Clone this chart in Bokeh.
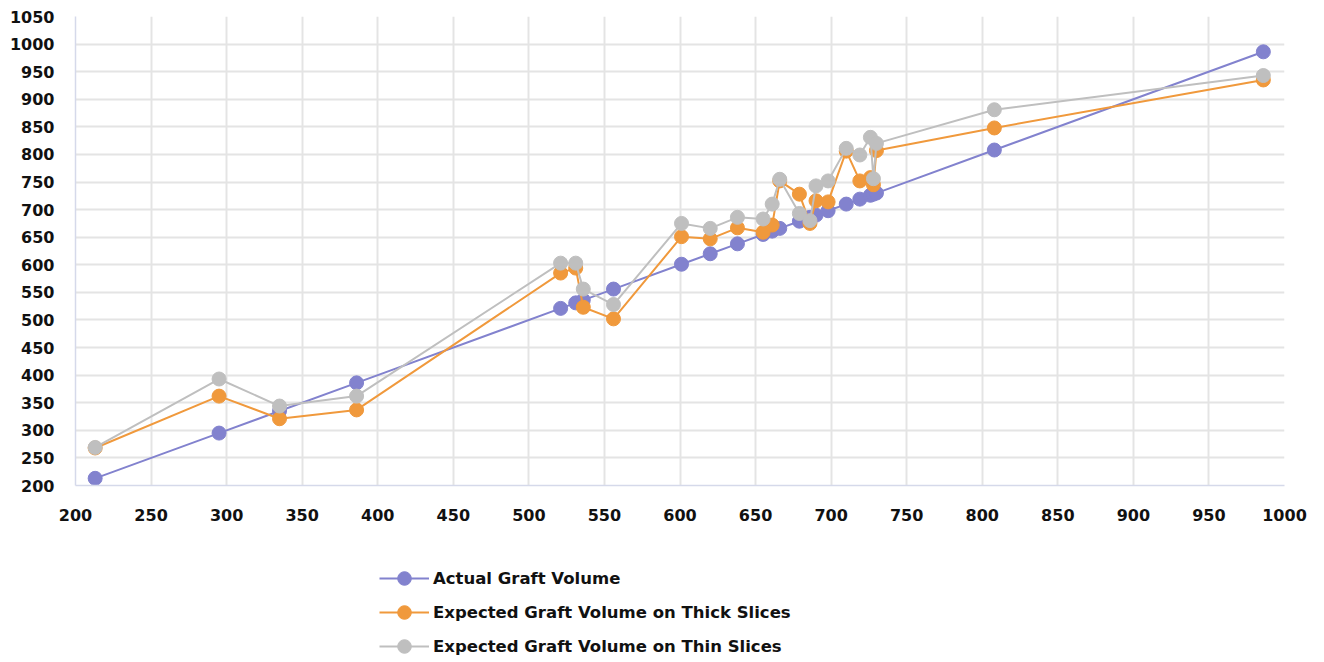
from bokeh.plotting import figure
from bokeh.models import Range1d, Legend, LegendItem, FixedTicker
from bokeh.layouts import column
from bokeh.embed import file_html
from bokeh.resources import INLINE

# ---- data ----
actual = [213, 295, 335, 386, 521, 531, 536, 556, 601, 620, 638, 655, 661, 666,
          679, 686, 690, 698, 710, 719, 726, 728, 730, 808, 986]
thick = [268, 362, 321, 337, 585, 594, 523, 502, 651, 647, 667, 659, 672, 752,
         728, 675, 716, 714, 806, 752, 758, 745, 807, 848, 935]
thin = [269, 393, 344, 362, 603, 603, 556, 528, 675, 666, 686, 683, 710, 755,
        693, 680, 743, 752, 811, 799, 831, 756, 820, 881, 943]

series_names = ["Actual Graft Volume",
                "Expected Graft Volume on Thick Slices",
                "Expected Graft Volume on Thin Slices"]
series_colors = ["#8282CE", "#F0993C", "#BFBFBF"]
x_ticks = list(range(200, 1001, 50))
y_ticks = list(range(200, 1051, 50))

FONT = "DejaVu Sans"
TOTAL_W = 1315

p = figure(title=None, output_backend="svg", toolbar_location=None,
           frame_width=1209, frame_height=469,
           x_range=Range1d(200, 1000), y_range=Range1d(200, 1050))
p.min_border_left = 75
p.min_border_right = TOTAL_W - 75 - 1209
p.min_border_top = 16
p.min_border_bottom = 54
p.outline_line_color = None
p.background_fill_color = "white"
p.border_fill_color = "white"

for ax, ticks in ((p.xaxis[0], x_ticks), (p.yaxis[0], y_ticks)):
    ax.ticker = FixedTicker(ticks=ticks)
    ax.major_tick_out = 0
    ax.major_tick_in = 0
    ax.minor_tick_out = 0
    ax.minor_tick_in = 0
    ax.axis_line_color = "#D5D9EA"
    ax.axis_line_width = 1.5
    ax.major_label_text_font = FONT
    ax.major_label_text_font_style = "bold"
    ax.major_label_text_font_size = "16px"
    ax.major_label_text_color = "#111111"
p.xaxis[0].major_label_standoff = 23
p.yaxis[0].major_label_standoff = 21

p.xgrid.ticker = FixedTicker(ticks=x_ticks)
p.ygrid.ticker = FixedTicker(ticks=y_ticks)
for g in (p.xgrid[0], p.ygrid[0]):
    g.grid_line_color = "#E4E4E4"
    g.grid_line_width = 2

for ys, color in zip([actual, thick, thin], series_colors):
    p.line(actual, ys, line_color=color, line_width=2)
    p.scatter(actual, ys, size=14, fill_color=color, line_color=color)

# ---- legend panel underneath (separate figure so nothing is clipped) ----
LEG_H = 120
q = figure(title=None, output_backend="svg", toolbar_location=None,
           width=TOTAL_W, height=LEG_H, x_axis_location=None, y_axis_location=None,
           x_range=Range1d(0, 1), y_range=Range1d(0, 1))
q.min_border = 0
q.min_border_left = 0
q.min_border_right = 0
q.min_border_top = 0
q.min_border_bottom = 0
q.outline_line_color = None
q.xgrid.visible = False
q.ygrid.visible = False

items = []
for name, color in zip(series_names, series_colors):
    ln = q.line([-5, -4], [-5, -4], line_color=color, line_width=2)
    sc = q.scatter([-5], [-5], size=14, fill_color=color, line_color=color)
    items.append(LegendItem(label=name, renderers=[ln, sc]))

legend = Legend(items=items, location=(304, -4))
legend.glyph_width = 50
legend.glyph_height = 34
legend.label_height = 34
legend.spacing = 0
legend.padding = 0
legend.margin = 0
legend.label_standoff = 4
legend.label_text_font = FONT
legend.label_text_font_style = "bold"
legend.label_text_font_size = "16.5px"
legend.label_text_color = "#111111"
legend.border_line_alpha = 0
legend.background_fill_alpha = 0
q.add_layout(legend, "center")

layout = column(p, q, spacing=0)
open("out.html", "w").write(file_html(layout, INLINE))
